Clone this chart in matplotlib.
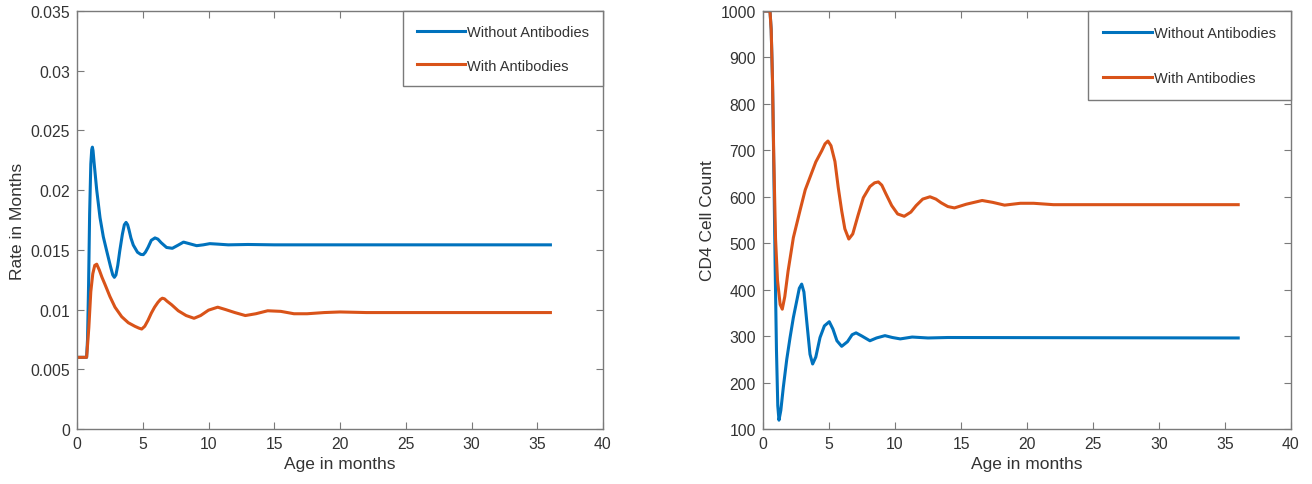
import numpy as np
import matplotlib.pyplot as plt

plt.rcParams['font.family'] = ['Liberation Sans', 'DejaVu Sans']

# Taxa (meses) - sem e com anticorpos
t_taxa_sem = [0, 0.73, 0.8, 0.88, 0.96, 1.05, 1.12, 1.17, 1.22, 1.3, 1.5, 1.75, 2.0, 2.26,
              2.55, 2.72, 2.84, 2.96, 3.1, 3.25, 3.45, 3.6, 3.73, 3.85, 3.95, 4.1, 4.28, 4.6,
              4.85, 5.04, 5.2, 5.4, 5.65, 5.93, 6.15, 6.4, 6.81, 7.25, 7.7, 8.1, 8.6, 9.1, 9.6,
              10.1, 10.7, 11.5, 13, 15, 36]
taxa_sem = [0.006, 0.006, 0.0075, 0.012, 0.018, 0.0222, 0.0234, 0.0236, 0.0233, 0.0223,
            0.0200, 0.0177, 0.0161, 0.0149, 0.0136, 0.0129, 0.0127, 0.0129, 0.0137, 0.0149,
            0.0163, 0.0171, 0.0173, 0.0171, 0.0167, 0.0160, 0.0154, 0.0148, 0.01462, 0.0146,
            0.0148, 0.0152, 0.0158, 0.0160, 0.0159, 0.0156, 0.0152, 0.01513, 0.0154, 0.01565,
            0.0155, 0.01535, 0.01542, 0.01552, 0.01548, 0.01542, 0.01545, 0.01542, 0.01542]

t_taxa_com = [0, 0.73, 0.8, 0.9, 1.05, 1.2, 1.35, 1.5, 1.7, 1.9, 2.13, 2.5, 2.89, 3.4, 3.9,
              4.4, 4.7, 4.92, 5.15, 5.4, 5.65, 5.9, 6.15, 6.35, 6.49, 6.65, 6.85, 7.2, 7.7,
              8.3, 8.9, 9.4, 10.0, 10.7, 11.3, 12, 12.8, 13.6, 14.5, 15.5, 16.5, 17.5, 18.8,
              20, 22, 36]
taxa_com = [0.006, 0.006, 0.0070, 0.0085, 0.0115, 0.0130, 0.0137, 0.0138, 0.0133, 0.0127,
            0.0121, 0.0111, 0.0102, 0.0094, 0.0089, 0.0086, 0.00845, 0.00837, 0.0086, 0.0091,
            0.0097, 0.0102, 0.0106, 0.01085, 0.01095, 0.0109, 0.0107, 0.0104, 0.0099, 0.0095,
            0.00927, 0.0095, 0.00995, 0.0102, 0.0100, 0.00975, 0.0095, 0.00965, 0.0099,
            0.00985, 0.00965, 0.00965, 0.00975, 0.0098, 0.00975, 0.00975]

# Contagem de CD4 - sem e com anticorpos
t_cd4_sem = [0, 0.53, 0.62, 0.72, 0.82, 0.92, 1.02, 1.12, 1.21, 1.35, 1.54, 1.8, 2.05, 2.3,
             2.55, 2.75, 2.93, 3.1, 3.31, 3.56, 3.76, 4.0, 4.32, 4.65, 5.02, 5.3, 5.6, 5.96,
             6.4, 6.75, 7.05, 7.5, 8.1, 8.6, 9.24, 9.8, 10.4, 11.3, 12.5, 14, 36]
cd4_sem = [1000, 1000, 960, 850, 660, 450, 270, 150, 119, 140, 190, 250, 297, 340, 375, 403,
           412, 395, 333, 261, 240, 255, 297, 322, 331, 315, 290, 278, 288, 303, 307, 300,
           290, 296, 301, 297, 294, 298, 296, 297, 296]

t_cd4_com = [0, 0.53, 0.62, 0.72, 0.82, 0.95, 1.1, 1.3, 1.46, 1.65, 1.9, 2.3, 2.8, 3.2, 3.56,
             4.0, 4.45, 4.7, 4.92, 5.15, 5.45, 5.7, 5.96, 6.2, 6.5, 6.8, 7.2, 7.6, 8.1, 8.45,
             8.74, 9.0, 9.3, 9.75, 10.2, 10.7, 11.2, 11.6, 12.1, 12.65, 13.1, 13.5, 14.0, 14.5,
             15.4, 16.6, 17.4, 18.3, 19.5, 20.5, 22, 36]
cd4_com = [1000, 1000, 960, 850, 680, 510, 420, 368, 358, 385, 440, 512, 570, 615, 642, 675,
           699, 714, 720, 710, 676, 620, 570, 531, 509, 520, 560, 598, 622, 630, 632, 625, 607,
           581, 563, 558, 567, 581, 595, 600, 595, 587, 579, 576, 584, 592, 588, 582, 586,
           586, 583, 583]

azul = '#0072BD'
laranja = '#D95319'
cinza = '#7a7a7a'
texto = '#333333'

fig = plt.figure(figsize=(13.12, 4.85), dpi=100)
ax1 = fig.add_axes([77 / 1312, 55 / 485, 526 / 1312, 418 / 485])
ax2 = fig.add_axes([763 / 1312, 55 / 485, 528 / 1312, 418 / 485])


def estilo(ax):
    for s in ax.spines.values():
        s.set_color(cinza)
        s.set_linewidth(1.0)
    ax.tick_params(direction='in', length=5, width=0.8, color=cinza, labelcolor=texto,
                   labelsize=11.3, top=True, right=True, pad=5)
    ax.set_xlim(0, 40)
    ax.set_xticks(np.arange(0, 41, 5))
    ax.set_xlabel('Age in months', fontsize=12.5, color=texto)


def legenda(ax, espaco, pad):
    leg = ax.legend(loc='upper right', borderaxespad=0, fontsize=10.5, handlelength=3.3,
                    handletextpad=0.15, labelspacing=espaco, borderpad=pad, fancybox=False,
                    edgecolor=cinza, framealpha=1)
    leg.get_frame().set_linewidth(1.0)
    for txt in leg.get_texts():
        txt.set_color(texto)


ax1.plot(t_taxa_sem, taxa_sem, color=azul, lw=2.2, label='Without Antibodies')
ax1.plot(t_taxa_com, taxa_com, color=laranja, lw=2.2, label='With Antibodies')
estilo(ax1)
ax1.set_ylim(0, 0.035)
ax1.set_yticks(np.arange(0, 0.0351, 0.005))
ax1.set_yticklabels(['0', '0.005', '0.01', '0.015', '0.02', '0.025', '0.03', '0.035'])
ax1.set_ylabel('Rate in Months', fontsize=12.5, color=texto)
legenda(ax1, 1.35, 0.95)

ax2.plot(t_cd4_sem, cd4_sem, color=azul, lw=2.2, label='Without Antibodies')
ax2.plot(t_cd4_com, cd4_com, color=laranja, lw=2.2, label='With Antibodies')
estilo(ax2)
ax2.set_ylim(100, 1000)
ax2.set_yticks(np.arange(100, 1001, 100))
ax2.set_ylabel('CD4 Cell Count', fontsize=12.5, color=texto)
legenda(ax2, 2.1, 1.05)

plt.savefig('out.png', dpi=100)
